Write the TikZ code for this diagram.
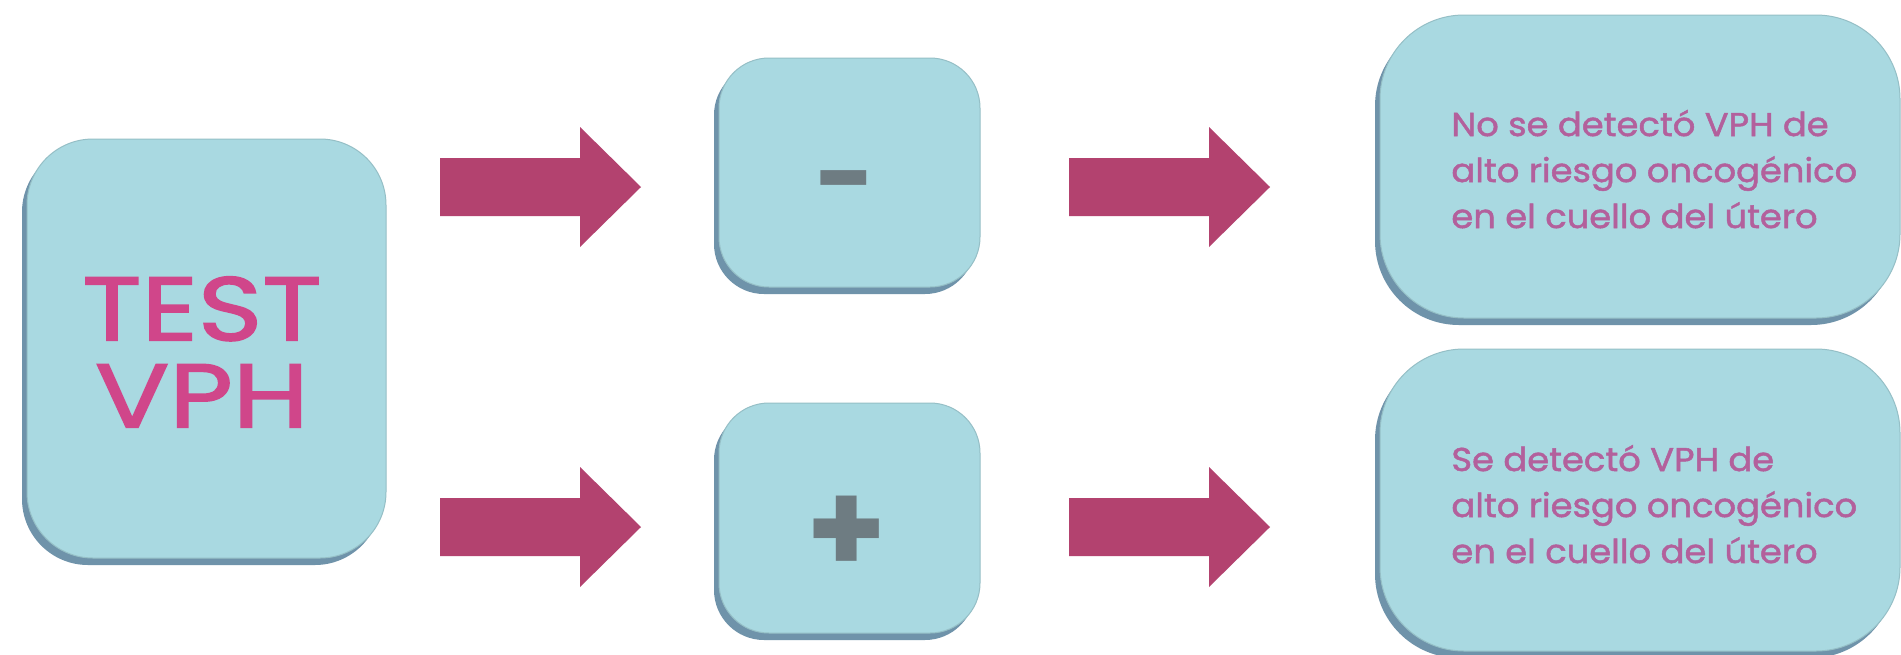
\documentclass[tikz,border=0pt]{standalone}
\usepackage{fontspec}
\setmainfont{Poppins}
\newfontfamily\titlefont[FakeStretch=1.22, FakeBold=2]{Poppins}
\newfontfamily\bodyfont[FakeStretch=1.07, FakeBold=1.5]{Poppins}
\usetikzlibrary{shadows}
\definecolor{boxfill}{HTML}{A9D9E1}
\definecolor{boxshadow}{HTML}{6F93AA}
\definecolor{arrowc}{HTML}{B3426F}
\definecolor{titlec}{HTML}{D0468A}
\definecolor{bodyc}{HTML}{B3609C}
\definecolor{signc}{HTML}{6E7C82}
\begin{document}
\begin{tikzpicture}[x=0.5pt,y=-0.5pt,
  box/.style={fill=boxfill, draw=boxfill!88!black, line width=0.5pt, inner sep=0pt,
    drop shadow={shadow xshift=-2.5pt, shadow yshift=-3.5pt, fill=boxshadow, opacity=1}},
  blk/.style={fill=arrowc},
  body/.style={text=bodyc, font=\bodyfont\fontsize{16.5}{23}\selectfont, align=left, anchor=base west, inner sep=0pt},
  sign/.style={text=signc, inner sep=0pt}]
\useasboundingbox (0,0) rectangle (1901,654);
\fill[white] (0,0) rectangle (1901,654);
% boxes
\node[box, minimum width=179.5pt, minimum height=209.5pt, rounded corners=33pt] (tv) at (206.5,348.5) {};
\node[box, minimum width=130.5pt, minimum height=114.5pt, rounded corners=25pt] (neg) at (849.5,172.5) {};
\node[box, minimum width=130.5pt, minimum height=115pt, rounded corners=25pt] (pos) at (849.5,518) {};
\node[box, minimum width=260pt, minimum height=151.5pt, rounded corners=42pt] (no) at (1640,166.5) {};
\node[box, minimum width=260pt, minimum height=151pt, rounded corners=42pt] (si) at (1640,500) {};
% texts
\node[text=titlec, font=\titlefont\fontsize{45}{43.5}\selectfont, align=center, inner sep=0pt] (tvt) at (202,352) {TEST\\VPH};
\node[sign, font=\fontsize{52}{52}\selectfont\bfseries] (negs) at (846,193) {-};
\node[sign, font=\fontsize{64}{64}\selectfont\bfseries] (poss) at (847,535) {+};
\node[body] (not) at (1451,228) {No se detectó VPH de\\alto riesgo oncogénico\\en el cuello del útero};
\node[body] (sit) at (1451,563) {Se detectó VPH de\\alto riesgo oncogénico\\en el cuello del útero};
% block arrows
\coordinate (a1) at (440,187);
\coordinate (a2) at (440,527);
\coordinate (a3) at (1069,187);
\coordinate (a4) at (1069,527);
\foreach \c in {a1,a2,a3,a4}{
  \fill[blk] (\c) ++(0,-29) -- ++(140,0) -- ++(0,-31) -- ++(61,60) -- ++(-61,60) -- ++(0,-31) -- ++(-140,0) -- cycle;
}
\end{tikzpicture}
\end{document}
